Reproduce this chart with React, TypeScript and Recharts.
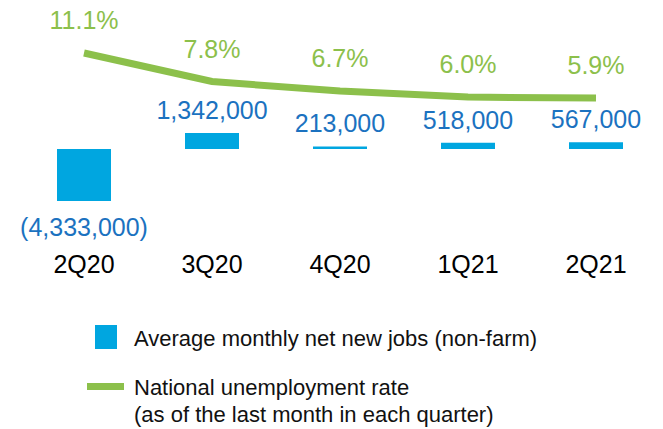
import { ComposedChart, Bar, Line, XAxis, YAxis, LabelList } from 'recharts';

const QUARTERS = ['2Q20', '3Q20', '4Q20', '1Q21', '2Q21'];
const NET_NEW_JOBS = [-4333000, 1342000, 213000, 518000, 567000];
const UNEMPLOYMENT_RATE = [11.1, 7.8, 6.7, 6.0, 5.9];

const BAR_BLUE = '#00a6e0';
const LABEL_BLUE = '#1b72c0';
const GREEN = '#8cc04b';
const FONT = '"Liberation Sans", Arial, sans-serif';

const data = QUARTERS.map((q, i) => ({
  quarter: q,
  jobs: NET_NEW_JOBS[i],
  rate: UNEMPLOYMENT_RATE[i],
}));

function JobsLabel(props: any) {
  const { x, y, width, height, value } = props;
  const cx = x + width / 2;
  const top = Math.min(y, y + height);
  const bottom = Math.max(y, y + height);
  const neg = value < 0;
  const text = neg
    ? `(${Math.abs(value).toLocaleString('en-US')})`
    : value.toLocaleString('en-US');
  return (
    <text x={cx} y={neg ? bottom + 35 : top - 14} textAnchor="middle"
      fill={LABEL_BLUE} fontSize={25} fontFamily={FONT}>
      {text}
    </text>
  );
}

function RateLabel(props: any) {
  const { x, y, value } = props;
  return (
    <text x={x} y={y - 24} textAnchor="middle" fill={GREEN} fontSize={25} fontFamily={FONT}>
      {`${value.toFixed(1)}%`}
    </text>
  );
}

export default function App() {
  return (
    <div style={{ position: 'absolute', left: 0, top: 0, width: 663, height: 429, background: '#fff', fontFamily: FONT }}>
      <ComposedChart width={663} height={290} data={data}
        margin={{ top: 20, right: 3, bottom: 13, left: 20 }}>
        <XAxis dataKey="quarter" axisLine={false} tickLine={false} interval={0} height={30}
          tick={{ fill: '#000', fontSize: 25, fontFamily: FONT }} />
        <YAxis yAxisId="jobs" hide domain={[-8166667, 10750000]} allowDataOverflow />
        <YAxis yAxisId="rate" hide orientation="right" domain={[-11.33, 14.915]} allowDataOverflow />
        <Bar yAxisId="jobs" dataKey="jobs" fill={BAR_BLUE} barSize={54} isAnimationActive={false}>
          <LabelList dataKey="jobs" content={JobsLabel} />
        </Bar>
        <Line yAxisId="rate" dataKey="rate" type="linear" stroke={GREEN} strokeWidth={7}
          dot={false} activeDot={false} isAnimationActive={false}>
          <LabelList dataKey="rate" content={RateLabel} />
        </Line>
      </ComposedChart>

      <div style={{ position: 'absolute', left: 95, top: 325, width: 22, height: 24, background: BAR_BLUE }} />
      <div style={{ position: 'absolute', left: 134, top: 325, fontSize: 22, lineHeight: '27px', color: '#111' }}>
        Average monthly net new jobs (non-farm)
      </div>

      <div style={{ position: 'absolute', left: 87, top: 383, width: 37, height: 7, background: GREEN }} />
      <div style={{ position: 'absolute', left: 134, top: 374, fontSize: 22, lineHeight: '27px', color: '#111' }}>
        National unemployment rate
        <br />
        (as of the last month in each quarter)
      </div>
    </div>
  );
}
